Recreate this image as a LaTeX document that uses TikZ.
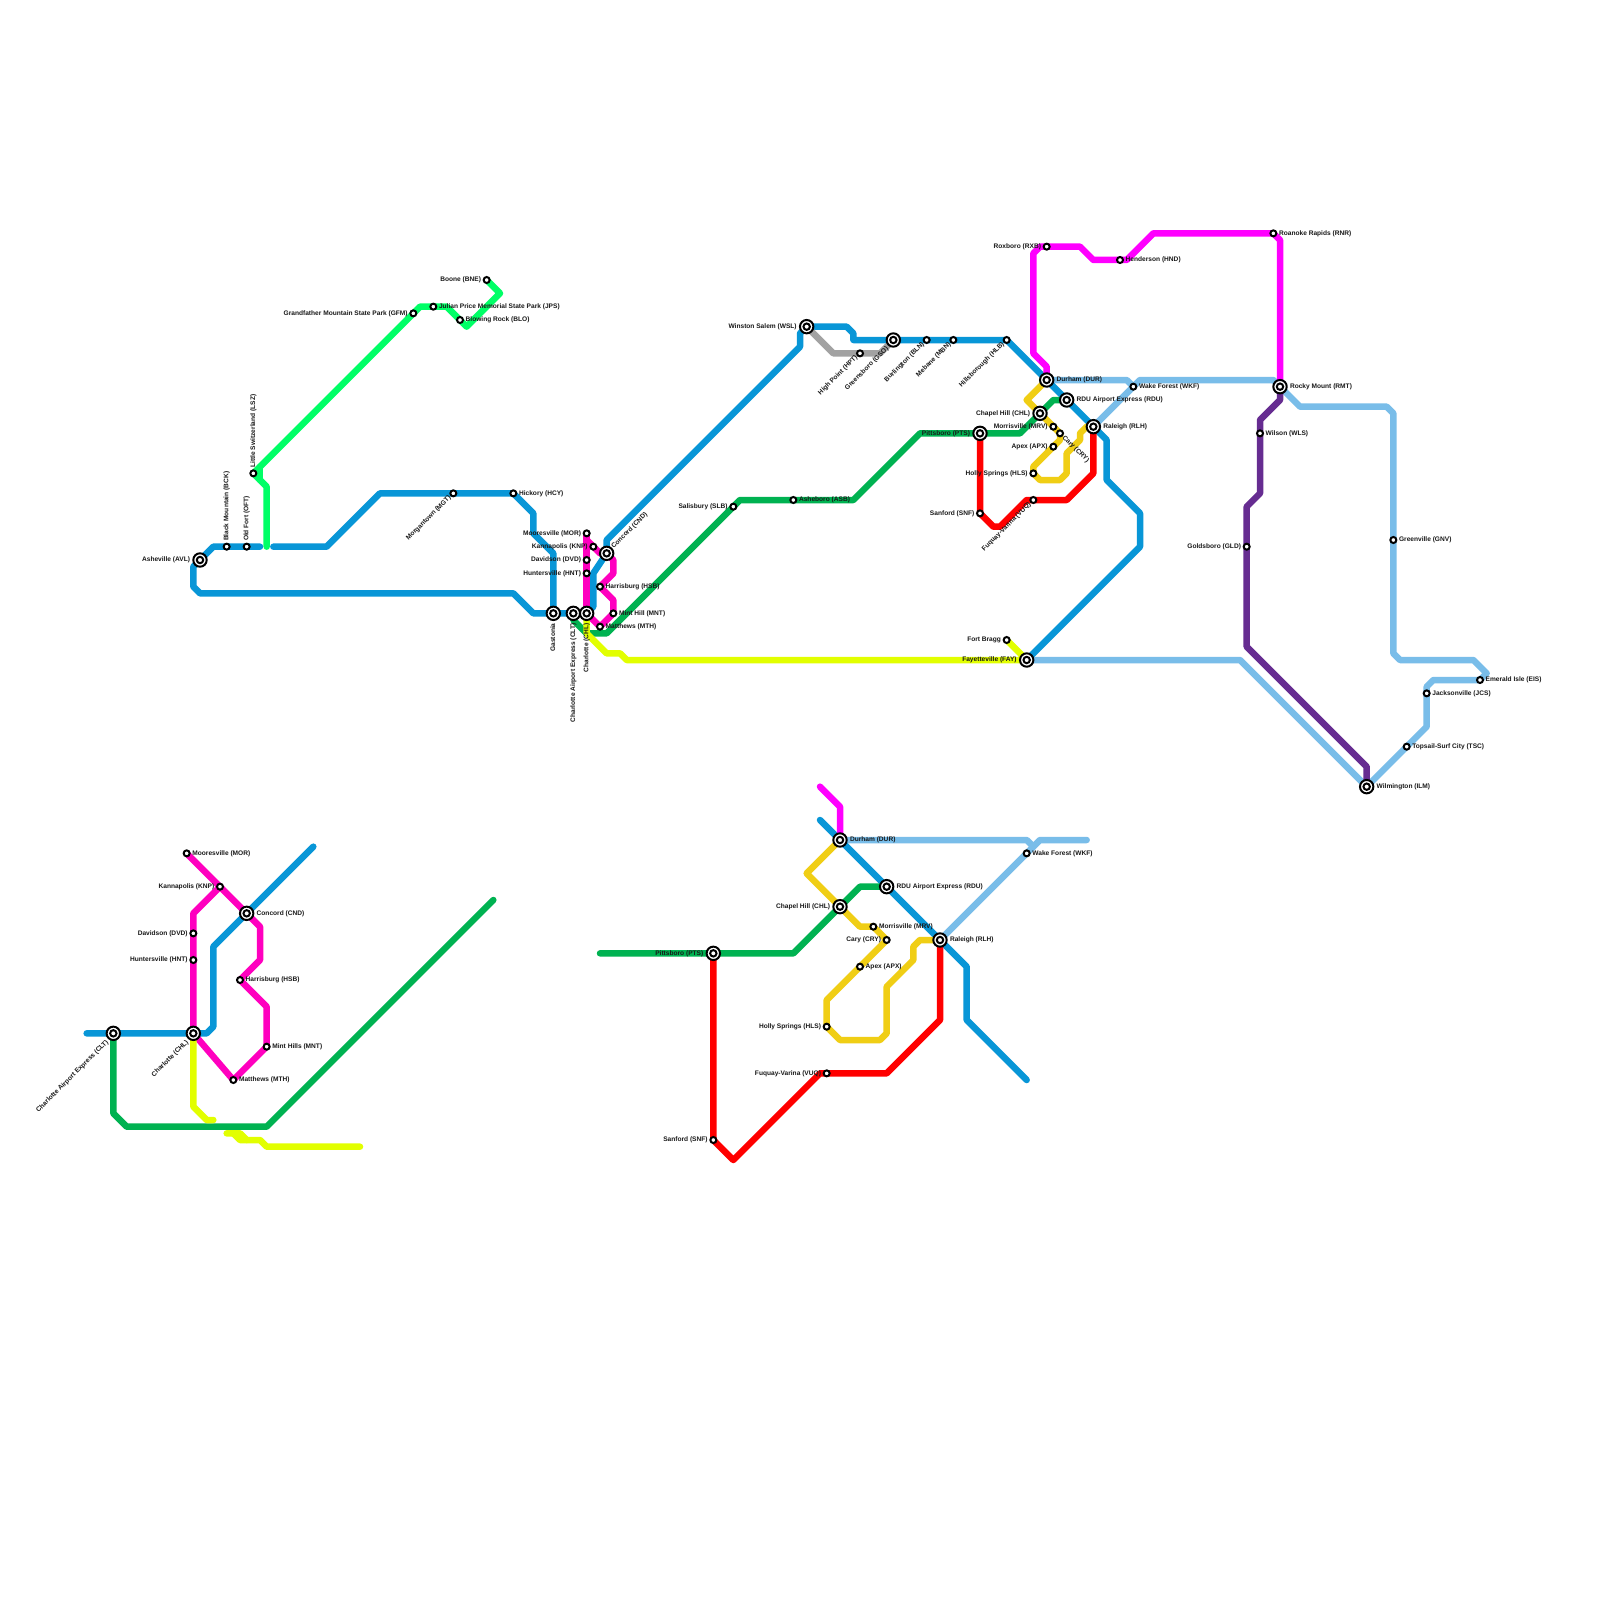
\documentclass[tikz,border=0pt]{standalone}
\usepackage{fontspec}
\setmainfont{Liberation Sans}
\definecolor{cBlue}{HTML}{0896D7}
\definecolor{cSpring}{HTML}{00FF66}
\definecolor{cPink}{HTML}{FF00BF}
\definecolor{cMag}{HTML}{FF00FF}
\definecolor{cSky}{HTML}{79BDE9}
\definecolor{cGreen}{HTML}{00B251}
\definecolor{cRed}{HTML}{FF0000}
\definecolor{cLime}{HTML}{E2FF00}
\definecolor{cGold}{HTML}{F0CE15}
\definecolor{cPurple}{HTML}{662C91}
\definecolor{cGray}{HTML}{A2A2A2}
\tikzset{
 ln/.style={line width=6.5pt,line cap=round,line join=round},
 stop/.style={circle,draw=black,fill=white,line width=2pt,minimum size=6pt,inner sep=0pt,outer sep=0pt},
 hubo/.style={circle,draw=black,fill=white,line width=2pt,minimum size=13.4pt,inner sep=0pt,outer sep=0pt},
 hubi/.style={circle,draw=black,fill=white,line width=2pt,minimum size=6.4pt,inner sep=0pt,outer sep=0pt},
 lbl/.style={inner sep=0pt,outer sep=0pt,font=\fontsize{6.6}{7}\selectfont\bfseries,text height=5pt,text depth=1.4pt,text=black!90},
 lE/.style={lbl,anchor=west,xshift=5.7pt},
 lW/.style={lbl,anchor=east,xshift=-5.7pt},
 lN/.style={lbl,yshift=5.7pt,rotate=90,anchor=west},
 lSW/.style={lbl,xshift=-3.5pt,yshift=-3.5pt,rotate=45,anchor=east},
 lSE/.style={lbl,xshift=3.5pt,yshift=-3.5pt,rotate=-45,anchor=west},
 hE/.style={lbl,anchor=west,xshift=10pt},
 hW/.style={lbl,anchor=east,xshift=-10pt},
 hS/.style={lbl,yshift=-10pt,rotate=90,anchor=east},
 hNE/.style={lbl,xshift=6pt,yshift=6pt,rotate=45,anchor=west},
 hSW/.style={lbl,xshift=-6pt,yshift=-8pt,rotate=45,anchor=east},
}
\newcommand{\stp}[3]{\node[stop] (#1n) at (#1) {};\node[#2] (#1t) at (#1) {#3};}
\newcommand{\hub}[3]{\node[hubo] (#1n) at (#1) {};\node[hubi] (#1i) at (#1) {};\node[#2] (#1t) at (#1) {#3};}
\begin{document}
\begin{tikzpicture}[x=6.66667pt,y=-6.66667pt]
\fill[white] (0,0) rectangle (240,240);
\useasboundingbox (0,0) rectangle (240,240);
% upper map stations
\foreach \n/\p in {avl/{30,84},bck/{34,82},oft/{37,82},lsz/{38,71},gfm/{62,47},jps/{65,46},blo/{69,48},bne/{73,42},mgt/{68,74},hcy/{77,74},
 mor/{88,80},knp/{89,82},dvd/{88,84},hnt/{88,86},cnd/{91,83},hsb/{90,88},mnt/{92,92},mth/{90,94},gas/{83,92},clt/{86,92},chl/{88,92},
 slb/{110,76},asb/{119,75},wsl/{121,49},hpt/{129,53},gso/{134,51},bln/{139,51},mbn/{143,51},hlb/{151,51},
 pts/{147,65},chh/{156,62},mrv/{158,64},cry/{159,65},apx/{158,67},hls/{155,71},snf/{147,77},vuq/{155,75},
 dur/{157,57},rdu/{160,60},rlh/{164,64},wkf/{170,58},rxb/{157,37},hnd/{168,39},rnr/{191,35},rmt/{192,58},
 wls/{189,65},gld/{187,82},gnv/{209,81},eis/{222,102},jcs/{214,104},tsc/{211,112},ilm/{205,118},frt/{151,96},fay/{154,99},
 Lmor/{28,128},Lknp/{33,133},Lcnd/{37,137},Ldvd/{29,140},Lhnt/{29,144},Lhsb/{36,147},Lmnt/{40,157},Lmth/{35,162},Lchl/{29,155},Lclt/{17,155},
 Ldur/{126,126},Lrdu/{133,133},Lchh/{126,136},Lmrv/{131,139},Lcry/{133,141},Lapx/{129,145},Lhls/{124,154},Lvuq/{124,161},Lrlh/{141,141},Lwkf/{154,128},Lpts/{107,143},Lsnf/{107,171}}
 {\coordinate (\n) at (\p);}
% sky blue
\draw[ln,cSky] (dur) -- (169,57) -- (wkf);
\draw[ln,cSky] (rlh) -- (wkf) -- (171,57) -- (191,57) -- (rmt) -- (195,61) -- (208,61) -- (209,62) -- (gnv) -- (209,98) -- (210,99) -- (221,99) -- (223,101) -- (eis) -- (215,102) -- (214,103) -- (jcs) -- (214,109) -- (tsc) -- (ilm) -- (186,99) -- (fay);
\draw[ln,cSky] (Ldur) -- (154,126) -- (155,127);
\draw[ln,cSky] (Lrlh) -- (Lwkf) -- (156,126) -- (163,126);
% blue
\draw[ln,cBlue] (avl) -- (32,82) -- (bck) -- (oft) -- (39,82);
\draw[ln,cBlue] (41,82) -- (49,82) -- (57,74) -- (mgt) -- (hcy) -- (80,77) -- (80,80) -- (83,83) -- (gas);
\draw[ln,cBlue] (avl) -- (29,85) -- (29,88) -- (30,89) -- (77,89) -- (80,92) -- (gas) -- (clt) -- (chl);
\draw[ln,cBlue] (chl) -- (89,91) -- (89,86) -- (cnd) -- (91,81) -- (120,52) -- (120,50) -- (wsl) -- (127,49) -- (128,50) -- (128,51) -- (gso) -- (bln) -- (mbn) -- (hlb) -- (dur) -- (rdu) -- (rlh) -- (166,66) -- (166,72) -- (171,77) -- (171,82) -- (fay);
\draw[ln,cBlue] (13,155) -- (Lclt) -- (Lchl) -- (31,155) -- (32,154) -- (32,142) -- (Lcnd) -- (47,127);
\draw[ln,cBlue] (123,123) -- (Ldur) -- (Lrdu) -- (Lrlh) -- (145,145) -- (145,153) -- (154,162);
% gray
\draw[ln,cGray] (wsl) -- (125,53) -- (hpt) -- (132,53) -- (gso);
% spring green
\draw[ln,cSpring] (40,82) -- (40,73) -- (lsz) -- (39,70) -- (gfm) -- (63,46) -- (jps) -- (67,46) -- (70,49) -- (75,44) -- (bne);
\draw[ln,cSpring] (39,70) -- (39,72);
% dark green
\draw[ln,cGreen] (clt) -- (86,93) -- (88,95) -- (91,95) -- (108,78) -- (slb) -- (111,75) -- (asb) -- (128,75) -- (138,65) -- (pts) -- (153,65) -- (chh) -- (158,60) -- (rdu);
\draw[ln,cGreen] (Lclt) -- (17,167) -- (19,169) -- (40,169) -- (74,135);
\draw[ln,cGreen] (90,143) -- (Lpts) -- (119,143) -- (Lchh) -- (129,133) -- (Lrdu);
% gold
\draw[ln,cGold] (dur) -- (154,60) -- (chh) -- (mrv) -- (cry) -- (159,66) -- (155,70) -- (hls) -- (156,72) -- (159,72) -- (160,71) -- (160,68) -- (162,66) -- (162,65) -- (163,64) -- (rlh);
\draw[ln,cGold] (Ldur) -- (121,131) -- (Lchh) -- (129,139) -- (Lmrv) -- (Lcry) -- (Lapx) -- (124,150) -- (Lhls) -- (126,156) -- (132,156) -- (133,155) -- (133,148) -- (137,144) -- (137,142) -- (138,141) -- (Lrlh);
% red
\draw[ln,cRed] (pts) -- (snf) -- (149,79) -- (150,79) -- (154,75) -- (vuq) -- (160,75) -- (164,71) -- (rlh);
\draw[ln,cRed] (Lpts) -- (Lsnf) -- (110,174) -- (123,161) -- (Lvuq) -- (133,161) -- (141,153) -- (Lrlh);
% pink
\draw[ln,cPink] (mor) -- (chl);
\draw[ln,cPink] (88,81) -- (90,83) -- (cnd) -- (92,84) -- (92,86) -- (hsb) -- (92,90) -- (mnt) -- (mth) -- (chl);
\draw[ln,cPink] (Lmor) -- (Lknp) -- (Lcnd) -- (39,139) -- (39,144) -- (Lhsb) -- (40,151) -- (Lmnt) -- (Lmth) -- (Lchl) -- (Lhnt) -- (Ldvd) -- (29,137) -- (Lknp);
% magenta
\draw[ln,cMag] (dur) -- (157,55) -- (155,53) -- (155,38) -- (156,37) -- (rxb) -- (162,37) -- (164,39) -- (hnd) -- (169,39) -- (173,35) -- (rnr) -- (192,36) -- (rmt);
\draw[ln,cMag] (Ldur) -- (126,121) -- (123,118);
% purple
\draw[ln,cPurple] (rmt) -- (192,60) -- (189,63) -- (wls) -- (189,74) -- (187,76) -- (gld) -- (187,97) -- (205,115) -- (ilm);
% lime
\draw[ln,cLime] (chl) -- (88,95) -- (91,98) -- (93,98) -- (94,99) -- (fay) -- (frt);
\draw[ln,cLime] (Lchl) -- (29,166) -- (31,168) -- (32,168);
\draw[ln,cLime] (34,170) -- (36,170) -- (37,171) -- (39,171) -- (40,172) -- (54,172);
\draw[ln,cLime] (35,170) -- (36,171) -- (37,171);
% upper stations and labels
\hub{avl}{hW}{Asheville (AVL)}
\stp{bck}{lN}{Black Mountain (BCK)}
\stp{oft}{lN}{Old Fort (OFT)}
\stp{lsz}{lN}{Little Switzerland (LSZ)}
\stp{gfm}{lW}{Grandfather Mountain State Park (GFM)}
\stp{jps}{lE}{Julian Price Memorial State Park (JPS)}
\stp{blo}{lE}{Blowing Rock (BLO)}
\stp{bne}{lW}{Boone (BNE)}
\stp{mgt}{lSW}{Morgantown (MGT)}
\stp{hcy}{lE}{Hickory (HCY)}
\stp{mor}{lW}{Mooresville (MOR)}
\stp{knp}{lW}{Kannapolis (KNP)}
\stp{dvd}{lW}{Davidson (DVD)}
\stp{hnt}{lW}{Huntersville (HNT)}
\hub{cnd}{hNE}{Concord (CND)}
\stp{hsb}{lE}{Harrisburg (HSB)}
\stp{mnt}{lE}{Mint Hill (MNT)}
\stp{mth}{lE}{Matthews (MTH)}
\hub{gas}{hS}{Gastonia}
\hub{clt}{hS}{Charlotte Airport Express (CLT)}
\hub{chl}{hS}{Charlotte (CHL)}
\stp{slb}{lW}{Salisbury (SLB)}
\stp{asb}{lE}{Asheboro (ASB)}
\hub{wsl}{hW}{Winston Salem (WSL)}
\stp{hpt}{lSW}{High Point (HPT)}
\hub{gso}{hSW}{Greensboro (GSO)}
\stp{bln}{lSW}{Burlington (BLN)}
\stp{mbn}{lSW}{Mebane (MBN)}
\stp{hlb}{lSW}{Hillsborough (HLB)}
\hub{pts}{hW}{Pittsboro (PTS)}
\hub{chh}{hW}{Chapel Hill (CHL)}
\stp{mrv}{lW}{Morrisville (MRV)}
\stp{cry}{lSE}{Cary (CRY)}
\stp{apx}{lW}{Apex (APX)}
\stp{hls}{lW}{Holly Springs (HLS)}
\stp{snf}{lW}{Sanford (SNF)}
\stp{vuq}{lSW}{Fuquay-Varina (VUQ)}
\hub{dur}{hE}{Durham (DUR)}
\hub{rdu}{hE}{RDU Airport Express (RDU)}
\hub{rlh}{hE}{Raleigh (RLH)}
\stp{wkf}{lE}{Wake Forest (WKF)}
\stp{rxb}{lW}{Roxboro (RXB)}
\stp{hnd}{lE}{Henderson (HND)}
\stp{rnr}{lE}{Roanoke Rapids (RNR)}
\hub{rmt}{hE}{Rocky Mount (RMT)}
\stp{wls}{lE}{Wilson (WLS)}
\stp{gld}{lW}{Goldsboro (GLD)}
\stp{gnv}{lE}{Greenville (GNV)}
\stp{eis}{lE}{Emerald Isle (EIS)}
\stp{jcs}{lE}{Jacksonville (JCS)}
\stp{tsc}{lE}{Topsail-Surf City (TSC)}
\hub{ilm}{hE}{Wilmington (ILM)}
\stp{frt}{lW}{Fort Bragg}
\hub{fay}{hW}{Fayetteville (FAY)}
% lower left
\stp{Lmor}{lE}{Mooresville (MOR)}
\stp{Lknp}{lW}{Kannapolis (KNP)}
\hub{Lcnd}{hE}{Concord (CND)}
\stp{Ldvd}{lW}{Davidson (DVD)}
\stp{Lhnt}{lW}{Huntersville (HNT)}
\stp{Lhsb}{lE}{Harrisburg (HSB)}
\stp{Lmnt}{lE}{Mint Hills (MNT)}
\stp{Lmth}{lE}{Matthews (MTH)}
\hub{Lchl}{hSW}{Charlotte (CHL)}
\hub{Lclt}{hSW}{Charlotte Airport Express (CLT)}
% lower right
\hub{Ldur}{hE}{Durham (DUR)}
\hub{Lrdu}{hE}{RDU Airport Express (RDU)}
\hub{Lchh}{hW}{Chapel Hill (CHL)}
\stp{Lmrv}{lE}{Morrisville (MRV)}
\stp{Lcry}{lW}{Cary (CRY)}
\stp{Lapx}{lE}{Apex (APX)}
\stp{Lhls}{lW}{Holly Springs (HLS)}
\stp{Lvuq}{lW}{Fuquay-Varina (VUQ)}
\hub{Lrlh}{hE}{Raleigh (RLH)}
\stp{Lwkf}{lE}{Wake Forest (WKF)}
\hub{Lpts}{hW}{Pittsboro (PTS)}
\stp{Lsnf}{lW}{Sanford (SNF)}
\end{tikzpicture}
\end{document}
